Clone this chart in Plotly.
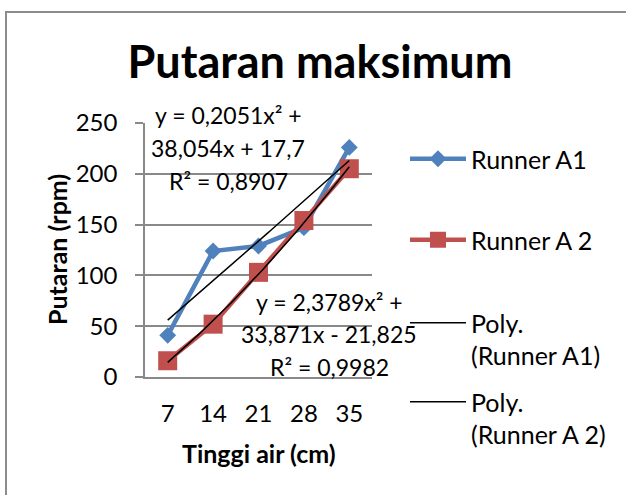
import numpy as np
import plotly.graph_objects as go

# ---- data ----
categories = ["7", "14", "21", "28", "35"]
runner_a1 = [41, 124, 129, 147, 226]
runner_a2 = [16, 52, 103, 154, 205]
# polynomial trendline coefficients as printed on the chart (x = category number 1..5)
poly_a1 = [0.2051, 38.054, 17.7]
poly_a2 = [2.3789, 33.871, -21.825]
eq_a1_lines = ["y = 0,2051x² +", "38,054x + 17,7", "R² = 0,8907"]
eq_a2_lines = ["y = 2,3789x² +", "33,871x - 21,825", "R² = 0,9982"]

W, H = 626, 495
L, R, T, B = 145, 254, 123, 118
PW, PH = W - L - R, H - T - B


def px(x):
    return (x - L) / PW


def py(y):
    return (H - B - y) / PH


FONT = "Lato, 'Open Sans', sans-serif"
BLUE = "#4F81BD"
RED = "#C0504D"
GRID = "#898989"

idx = list(range(len(categories)))
t = np.linspace(0, len(categories) - 1, 61)
fit_a1 = np.polyval(poly_a1, t + 1)
fit_a2 = np.polyval(poly_a2, t + 1)

fig = go.Figure()
fig.add_trace(go.Scatter(x=idx, y=runner_a1, name="Runner A1", mode="lines+markers",
                         line=dict(color=BLUE, width=4.5),
                         marker=dict(symbol="diamond", size=13, color=BLUE),
                         legend="legend"))
fig.add_trace(go.Scatter(x=idx, y=runner_a2, name="Runner A 2", mode="lines+markers",
                         line=dict(color=RED, width=4.5),
                         marker=dict(symbol="square", size=19, color=RED),
                         legend="legend2"))
fig.add_trace(go.Scatter(x=t, y=fit_a1, name="Poly.<br>(Runner A1)", mode="lines",
                         line=dict(color="black", width=1.5), legend="legend3"))
fig.add_trace(go.Scatter(x=t, y=fit_a2, name="Poly.<br>(Runner A 2)", mode="lines",
                         line=dict(color="black", width=1.5), legend="legend4"))

leg_common = dict(xref="container", yref="container", xanchor="left", yanchor="middle",
                  font=dict(family=FONT, size=25, color="black"), itemwidth=56,
                  bgcolor="rgba(0,0,0,0)", borderwidth=0, valign="top")
lx = (410 - 5) / W
fig.update_layout(
    legend=dict(x=lx, y=1 - 159 / H, **leg_common),
    legend2=dict(x=lx, y=1 - 240 / H, **leg_common),
    legend3=dict(x=lx, y=1 - 339 / H, **leg_common),
    legend4=dict(x=lx, y=1 - 418 / H, **leg_common),
)

fig.update_layout(
    width=W, height=H, autosize=False,
    margin=dict(l=L, r=R, t=T, b=B),
    paper_bgcolor="white", plot_bgcolor="white",
    font=dict(family=FONT, size=23, color="black"),
    title=dict(text="<b>Putaran maksimum</b>", x=320 / W, xanchor="center",
               y=1 - 62 / H, yanchor="middle", yref="container",
               font=dict(family=FONT, size=45, color="black")),
    xaxis=dict(range=[-0.5, len(categories) - 0.5], tickvals=idx, ticktext=categories,
               showgrid=False, zeroline=False, showline=True, linecolor=GRID, linewidth=2,
               ticks="", ticklabelstandoff=14, fixedrange=True,
               tickfont=dict(family=FONT, size=24)),
    yaxis=dict(range=[0, 250], dtick=50, showgrid=True, gridcolor=GRID, gridwidth=2,
               zeroline=False, showline=True, linecolor=GRID, linewidth=1.5,
               ticks="outside", ticklen=8, tickcolor=GRID, tickwidth=2,
               ticklabelstandoff=13, fixedrange=True,
               tickfont=dict(family=FONT, size=24)),
    showlegend=True,
)

fig.add_annotation(text="<b>Putaran (rpm)</b>", textangle=-90, xref="paper", yref="paper",
                   x=px(57), y=py(250), xanchor="center", yanchor="middle", showarrow=False,
                   font=dict(family=FONT, size=25, color="black"))
fig.add_annotation(text="<b>Tinggi air (cm)</b>", xref="paper", yref="paper",
                   x=px(259), y=py(453), xanchor="center", yanchor="middle", showarrow=False,
                   font=dict(family=FONT, size=25, color="black"))

for lines, cx, ys in ((eq_a1_lines, 228, (115, 148, 181)),
                      (eq_a2_lines, 329, (302, 334, 367))):
    for line, yy in zip(lines, ys):
        fig.add_annotation(text=line, xref="paper", yref="paper", x=px(cx), y=py(yy),
                           xanchor="center", yanchor="middle", showarrow=False,
                           font=dict(family=FONT, size=23, color="black"))

# chart-area border (top-left corner visible in the reference)
fig.add_shape(type="rect", xref="paper", yref="paper",
              x0=px(6), x1=px(W + 20), y0=py(H + 20), y1=py(12),
              line=dict(color="#8c8c8c", width=2), fillcolor="rgba(0,0,0,0)", layer="below")

fig.write_html("out.html", config={"displayModeBar": False},
               post_script="document.body.style.margin='0';")
